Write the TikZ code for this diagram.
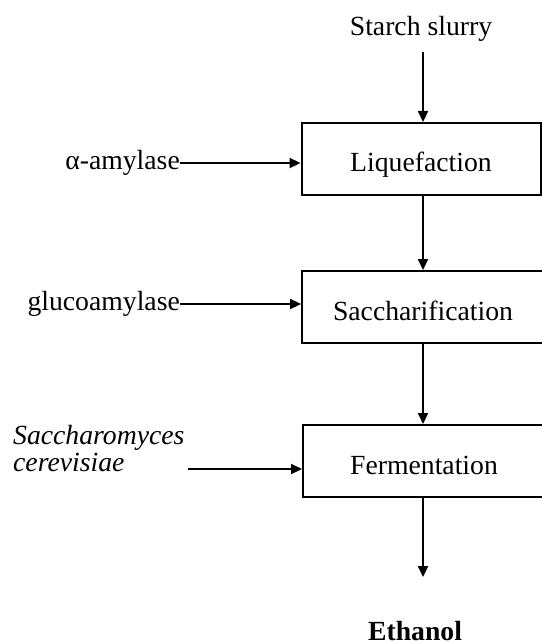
\documentclass[tikz,border=0pt]{standalone}
\usepackage{fontspec}
\setmainfont{Liberation Serif}
\usetikzlibrary{arrows.meta}
\tikzstyle{StepBox}=[draw,line width=2pt,minimum height=72pt,inner sep=0pt,
text height=26pt,text depth=0pt]
\tikzstyle{FlowArrow}=[line width=2.2pt,-{Triangle[length=11pt,width=10pt]}]
\tikzstyle{LabelText}=[inner sep=0pt]
\begin{document}
\begin{tikzpicture}[x=1pt,y=-1pt,font=\fontsize{27.7}{27}\selectfont]
        \useasboundingbox(0,0)rectangle(541,644);
        \node[LabelText,anchor=base](slurry)at(421,36){Starch slurry};
        \node[StepBox,minimum width=239pt](liq)at(421,159){Liquefaction};
        \node[StepBox,minimum width=242pt](sacc)at(423,307){Saccharification};
        \node[StepBox,minimum width=242pt](ferm)at(424,461){Fermentation};
        \node[LabelText,anchor=base east](amy)at(180,170){α-amylase};
        \node[LabelText,anchor=base east](gluco)at(180,310){glucoamylase};
        \node[LabelText,anchor=west,align=left,font=\fontsize{27.7}{27}\selectfont\itshape](yeast)at(13,449){Saccharomyces\\cerevisiae};
        \node[LabelText,anchor=base,font=\fontsize{27.7}{27}\selectfont\bfseries](eth)at(415,640){Ethanol};
        \coordinate(yeastin)at(188,469);
        \coordinate(out)at(423,577);
        \draw[FlowArrow]([yshift=-10pt]slurry.south-|sacc)--(liq.north-|sacc);
        \draw[FlowArrow](liq.south-|sacc)--(sacc.north);
        \draw[FlowArrow](sacc.south)--(sacc.south|-ferm.north);
        \draw[FlowArrow](ferm.south-|out)--(out);
        \draw[FlowArrow]([yshift=7pt]amy.base east)--([yshift=7pt]amy.base east-|liq.west);
        \draw[FlowArrow]([yshift=6pt]gluco.base east)--([yshift=6pt]gluco.base east-|sacc.west);
        \draw[FlowArrow](yeastin)--(yeastin-|ferm.west);
    \end{tikzpicture}
\end{document}
